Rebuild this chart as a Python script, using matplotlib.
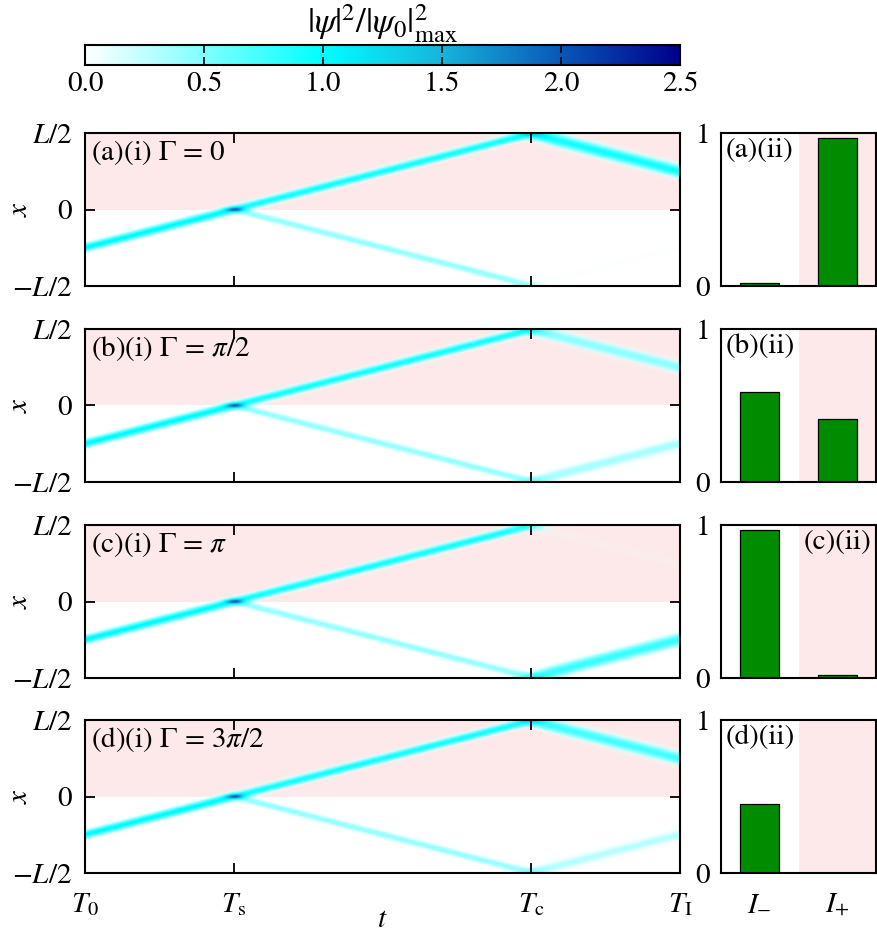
import matplotlib
matplotlib.use('Agg')
import matplotlib.pyplot as plt
import numpy as np
from matplotlib.colors import LinearSegmentedColormap, Normalize
from matplotlib.ticker import FixedLocator

plt.rcParams['font.family'] = ['STIXGeneral', 'DejaVu Serif']
plt.rcParams['mathtext.fontset'] = 'stix'
plt.rcParams['font.size'] = 21

# time marks (T0, Ts, Tc, TI) and beam paths
t_marks = [0.0, 1.0, 3.0, 4.0]
t_labels = [r'$T_0$', r'$T_{\rm s}$', r'$T_{\rm c}$', r'$T_{\rm I}$']
in_t = [0.0, 1.0]
in_x = [-0.25, 0.0]
up_t = [1.0, 3.0, 4.0]
up_x = [0.0, 0.5, 0.25]
lo_t = [1.0, 3.0, 4.0]
lo_x = [0.0, -0.5, -0.25]

# peak intensities of the beams
in_amp = 1.05
up_amp_before = 0.95
lo_amp_before = 0.42
up_amp_after = [0.95, 0.45, 0.05, 0.75]
lo_amp_after = [0.05, 0.35, 0.80, 0.30]

panel_tags = ['a', 'b', 'c', 'd']
gammas = [r'0', r'\pi/2', r'\pi', r'3\pi/2']

# output intensities (bars)
I_minus = [0.02, 0.585, 0.97, 0.45]
I_plus = [0.97, 0.41, 0.02, 0.0]

cb_ticks = [0.0, 0.5, 1.0, 1.5, 2.0, 2.5]

cmap = LinearSegmentedColormap.from_list(
    'beam', [(0.0, '#ffffff'), (0.4, '#00ffff'), (0.6, '#18b4dc'),
             (0.8, '#0a58b8'), (1.0, '#00008c')], N=256)
norm = Normalize(0, 2.5)
pink = '#fde9e9'

tt = np.linspace(0, 4, 600)
xx = np.linspace(-0.5, 0.5, 160)
T, X = np.meshgrid(tt, xx)


def gauss(x, c, s):
    return np.exp(-(x - c) ** 2 / (2 * s ** 2))


def field(k):
    before_s = 1 / (1 + np.exp((T - 1.0) / 0.015))
    after_s = 1 - before_s
    after_c = 1 / (1 + np.exp(-(T - 3.0) / 0.05))
    # incoming beam
    c_in = np.interp(T, in_t, in_x)
    v = in_amp * before_s * gauss(X, c_in, 0.019)
    # upper branch, with reflection at the top wall
    c_up = np.interp(T, up_t, up_x)
    a_up = up_amp_before * (1 - after_c) + up_amp_after[k] * after_c
    s_up = 0.018 + 0.010 * after_c
    v += after_s * a_up * (gauss(X, c_up, s_up) + 0.5 * gauss(X, 1 - c_up, s_up))
    # lower branch
    c_lo = np.interp(T, lo_t, lo_x)
    a_lo = lo_amp_before * (1 - after_c) + lo_amp_after[k] * after_c
    s_lo = 0.018 + 0.010 * after_c
    v += after_s * a_lo * (gauss(X, c_lo, s_lo) + 0.5 * gauss(X, -1 - c_lo, s_lo))
    # interference spot at the splitter
    v += 0.8 * np.exp(-((T - 1.0) / 0.06) ** 2 - (X / 0.014) ** 2)
    return v


fig = plt.figure(figsize=(8.77, 9.38), dpi=100)
W, H = 877.0, 938.0

# colorbar
cax = fig.add_axes([85 / W, 1 - 65 / H, 595 / W, 20 / H])
grad = np.linspace(0, 2.5, 256)[None, :]
cax.imshow(grad, cmap=cmap, norm=norm, aspect='auto', extent=[0, 2.5, 0, 1])
cax.set_xticks(cb_ticks)
cax.set_xticklabels(['%.1f' % v for v in cb_ticks])
cax.set_yticks([])
cax.tick_params(axis='x', direction='in', top=True, bottom=True, length=6,
                width=1.2, pad=5)
for s in cax.spines.values():
    s.set_linewidth(1.5)
cax.set_title(r'$|\psi|^2/|\psi_0|^2_{\rm max}$', pad=8)

tops = [133, 329, 525, 720]
ph = 153

for k in range(4):
    y0 = 1 - (tops[k] + ph) / H
    ax = fig.add_axes([85 / W, y0, 595 / W, ph / H])
    ax.axhspan(0, 0.5, color=pink, zorder=0, lw=0)
    v = field(k)
    ax.imshow(v, cmap=cmap, norm=norm, extent=[0, 4, -0.5, 0.5],
              origin='lower', aspect='auto', interpolation='bilinear',
              alpha=np.clip(v / 0.3, 0, 1), zorder=1)
    ax.set_xlim(0, 4)
    ax.set_ylim(-0.5, 0.5)
    ax.set_xticks(t_marks)
    ax.set_yticks([-0.5, 0, 0.5])
    ax.set_yticklabels([r'$-L/2$', r'$0$', r'$L/2$'])
    ax.tick_params(direction='in', top=True, right=True, length=7, width=1.3)
    ax.tick_params(axis='y', pad=9)
    if k == 3:
        ax.set_xticklabels(t_labels)
        ax.tick_params(axis='x', pad=13)
        ax.set_xlabel(r'$t$', labelpad=-7)
    else:
        ax.set_xticklabels([])
    ax.set_ylabel(r'$x$')
    ax.yaxis.set_label_coords(-0.088, 0.5)
    for s in ax.spines.values():
        s.set_linewidth(1.5)
        s.set_zorder(5)
    ax.text(0.01, 0.97, r'(%s)(i) $\Gamma$ = $%s$' % (panel_tags[k], gammas[k]),
            transform=ax.transAxes, ha='left', va='top', zorder=6)

    # output bars
    bx = fig.add_axes([721 / W, y0, 155 / W, ph / H])
    bx.axvspan(0.5, 1.5, color=pink, zorder=0, lw=0)
    bx.bar([0, 1], [I_minus[k], I_plus[k]], width=0.5, color='#008c00',
           edgecolor='black', linewidth=0.9, zorder=2)
    bx.set_xlim(-0.5, 1.5)
    bx.set_ylim(0, 1)
    bx.set_yticks([0, 1])
    bx.set_yticklabels(['0', '1'])
    bx.set_xticks([0, 1])
    bx.tick_params(length=0, pad=8)
    if k < 3:
        bx.xaxis.set_minor_locator(FixedLocator([1]))
        bx.tick_params(which='minor', direction='in', top=True, bottom=True,
                       length=7, width=1.3)
    if k == 3:
        bx.set_xticklabels([r'$I_{-}$', r'$I_{+}$'])
        bx.tick_params(axis='x', pad=13)
    else:
        bx.set_xticklabels([])
    for s in bx.spines.values():
        s.set_linewidth(1.5)
        s.set_zorder(5)
    if panel_tags[k] == 'c':
        bx.text(0.97, 0.97, '(c)(ii)', transform=bx.transAxes, ha='right', va='top')
    else:
        bx.text(0.03, 0.97, '(%s)(ii)' % panel_tags[k], transform=bx.transAxes,
                ha='left', va='top')

fig.savefig('out.png', dpi=100)
